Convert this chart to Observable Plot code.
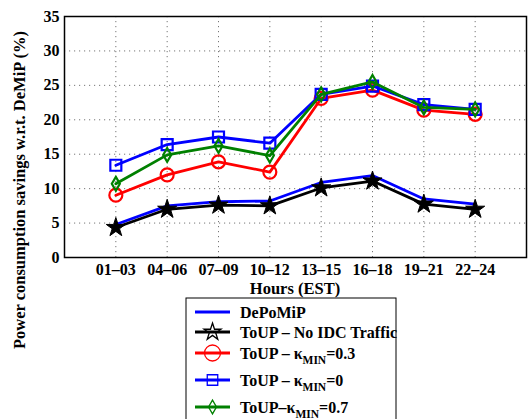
<!DOCTYPE html>
<html><head><meta charset="utf-8">
<script src="https://cdn.jsdelivr.net/npm/d3@7"></script>
<script src="https://cdn.jsdelivr.net/npm/@observablehq/plot@0.6"></script>
<style>body{margin:0;background:#fff;overflow:hidden}</style>
</head><body><div id="chart"></div>
<script>
const hours = ["01–03","04–06","07–09","10–12","13–15","16–18","19–21","22–24"];
const dePoMiP   = [4.8, 7.5, 8.1, 8.2, 10.9, 11.9, 8.5, 7.75];
const toupNoIDC = [4.35, 7.0, 7.6, 7.5, 10.1, 11.1, 7.75, 7.0];
const toupK03   = [9.05, 12.0, 13.9, 12.4, 23.1, 24.3, 21.4, 20.8];
const toupK0    = [13.4, 16.4, 17.5, 16.6, 23.7, 24.9, 22.2, 21.5];
const toupK07   = [10.7, 14.9, 16.2, 14.8, 23.7, 25.5, 21.8, 21.5];
const yTicks = [0,5,10,15,20,25,30,35];

const toRows = (vals) => vals.map((v,i) => ({i: i+1, v}));
const sDe = toRows(dePoMiP), sNo = toRows(toupNoIDC), s03 = toRows(toupK03), s0 = toRows(toupK0), s07 = toRows(toupK07);
const green = "#008000";
const LW = 2.8;

const chart = Plot.plot({
  width: 529, height: 419,
  marginTop: 16, marginLeft: 64, marginRight: 3, marginBottom: 162,
  style: {fontFamily: "'Liberation Serif', serif", fontWeight: "bold", fontSize: "16px", color: "black", background: "white"},
  x: {domain: [0, 9]},
  y: {domain: [0, 35]},
  marks: [
    Plot.gridY(yTicks, {stroke: "#777", strokeOpacity: 1, strokeDasharray: "1.2,3.8", strokeWidth: 1}),
    Plot.gridX(d3.range(1, 9), {stroke: "#777", strokeOpacity: 1, strokeDasharray: "1.2,3.8", strokeWidth: 1}),
    Plot.axisY({ticks: yTicks, tickSize: 0, tickPadding: 5, label: null, fontSize: 16}),
    Plot.axisX({ticks: d3.range(1, 9), tickFormat: i => hours[i-1], tickSize: 0, tickPadding: 6, label: null, fontSize: 16}),
    Plot.line(sDe, {x: "i", y: "v", stroke: "#0000ff", strokeWidth: LW}),
    Plot.line(sNo, {x: "i", y: "v", stroke: "black", strokeWidth: LW}),
    Plot.dot(sNo, {x: "i", y: "v", symbol: "star", r: 6, fill: "black", stroke: "black", strokeWidth: 1}),
    Plot.line(s03, {x: "i", y: "v", stroke: "#ff0000", strokeWidth: LW}),
    Plot.dot(s03, {x: "i", y: "v", symbol: "circle", r: 6.5, fill: "none", stroke: "#ff0000", strokeWidth: 2.2}),
    Plot.line(s0, {x: "i", y: "v", stroke: "#0000ff", strokeWidth: LW}),
    Plot.dot(s0, {x: "i", y: "v", symbol: "square", r: 6.2, fill: "none", stroke: "#0000ff", strokeWidth: 2.2}),
    Plot.line(s07, {x: "i", y: "v", stroke: green, strokeWidth: LW}),
    Plot.dot(s07, {x: "i", y: "v", symbol: "diamond", r: 4.2, fill: "none", stroke: green, strokeWidth: 2.2}),
    Plot.frame({stroke: "black", strokeWidth: 1.5})
  ]
});
document.getElementById("chart").appendChild(chart);

const svg = d3.select(chart);
const font = "'Liberation Serif', serif";
svg.append("text").attr("x", 295).attr("y", 288).attr("text-anchor", "middle").attr("dominant-baseline", "central")
  .attr("font-family", font).attr("font-weight", "bold").attr("font-size", 16.5).attr("fill", "black").text("Hours (EST)");
svg.append("text").attr("transform", "translate(19,190) rotate(-90)").attr("text-anchor", "middle").attr("dominant-baseline", "central")
  .attr("font-family", font).attr("font-weight", "bold").attr("font-size", 16.5).attr("fill", "black")
  .text("Power consumption savings w.r.t. DeMiP (%)");

// legend
const lg = svg.append("g").attr("text-anchor", "start");
lg.append("rect").attr("x", 186).attr("y", 298).attr("width", 210).attr("height", 140).attr("fill", "white").attr("stroke", "black").attr("stroke-width", 1);
const entries = [
  {y: 312, color: "#0000ff", sym: null, parts: [["DePoMiP"]]},
  {y: 332, color: "black", sym: d3.symbolStar, symSize: 90, fill: "none", parts: [["ToUP – No IDC Traffic"]]},
  {y: 353, color: "#ff0000", sym: d3.symbolCircle, symSize: 200, fill: "none", parts: [["ToUP – κ"], ["MIN", true], ["=0.3"]]},
  {y: 380, color: "#0000ff", sym: d3.symbolSquare, symSize: 110, fill: "none", parts: [["ToUP – κ"], ["MIN", true], ["=0"]]},
  {y: 407, color: green, sym: d3.symbolDiamond, symSize: 55, fill: "none", parts: [["ToUP–κ"], ["MIN", true], ["=0.7"]]}
];
for (const e of entries) {
  lg.append("line").attr("x1", 195).attr("x2", 230).attr("y1", e.y).attr("y2", e.y).attr("stroke", e.color).attr("stroke-width", LW);
  if (e.sym) lg.append("path").attr("d", d3.symbol(e.sym, e.symSize)()).attr("transform", `translate(212.5,${e.y})`)
    .attr("fill", e.fill).attr("stroke", e.color).attr("stroke-width", 1.3);
  const t = lg.append("text").attr("x", 240).attr("y", e.y).attr("text-anchor", "start").attr("dominant-baseline", "central")
    .attr("font-family", font).attr("font-weight", "bold").attr("font-size", 16).attr("fill", "black");
  for (const [s, sub] of e.parts) {
    const ts = t.append("tspan").text(s);
    if (sub) ts.attr("font-size", 11.5).attr("dy", 7);
    else if (e.parts.length > 1 && s.startsWith("=")) ts.attr("dy", -7);
  }
}
</script></body></html>
